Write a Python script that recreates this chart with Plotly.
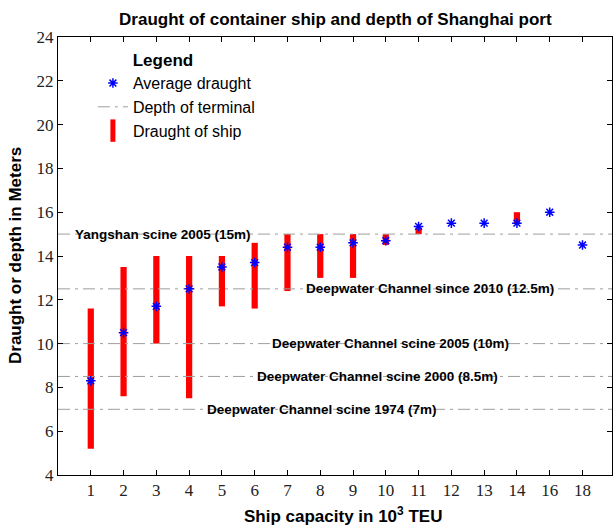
import plotly.graph_objects as go

# ---- data ----
capacity_labels = ["1", "2", "3", "4", "5", "6", "7", "8", "9", "10", "11", "12", "13", "14", "16", "18"]
draught_min = [5.2, 7.6, 10.0, 7.5, 11.7, 11.6, 12.4, 13.0, 13.0, 14.5, 15.0, 15.5, 15.5, 15.5, 16.0, 14.5]
draught_max = [11.6, 13.5, 14.0, 14.0, 14.0, 14.6, 15.0, 15.0, 15.0, 15.0, 15.3, 15.5, 15.5, 16.0, 16.0, 14.5]
draught_avg = [8.3, 10.5, 11.7, 12.5, 13.5, 13.7, 14.4, 14.4, 14.6, 14.7, 15.35, 15.5, 15.5, 15.5, 16.0, 14.5]
depth_values = [15, 12.5, 10, 8.5, 7]
depth_labels = [
    "Yangshan scine 2005 (15m)",
    "Deepwater Channel since 2010 (12.5m)",
    "Deepwater Channel scine 2005 (10m)",
    "Deepwater Channel scine 2000 (8.5m)",
    "Deepwater Channel scine 1974 (7m)",
]
label_xpos = [3.2, 11.36, 10.15, 9.76, 8.05]

xpos = list(range(1, len(capacity_labels) + 1))
x_range = [0, 16.9]

fig = go.Figure()

# depth lines
for i, (d, lab) in enumerate(zip(depth_values, depth_labels)):
    fig.add_trace(go.Scatter(
        x=x_range, y=[d, d], mode="lines",
        line=dict(color="#9e9e9e", width=1, dash="12px,5px,3px,5px"),
        name="Depth of terminal", legendgroup="depth",
        showlegend=(i == 0), legendrank=2, hoverinfo="skip",
    ))

# draught range bars
fig.add_trace(go.Bar(
    x=xpos, base=draught_min,
    y=[mx - mn for mn, mx in zip(draught_min, draught_max)],
    width=0.19, marker=dict(color="#ff0000", line=dict(width=0)),
    showlegend=False, name="Draught of ship",
))
# legend entry for the bars
fig.add_trace(go.Scatter(
    x=[None], y=[None], mode="markers",
    marker=dict(symbol="line-ns-open", size=22, color="#ff0000",
                line=dict(color="#ff0000", width=6)),
    name="Draught of ship", legendrank=3,
))

# averages
fig.add_trace(go.Scatter(
    x=xpos, y=draught_avg, mode="markers",
    marker=dict(symbol="asterisk-open", size=8, color="#0000ff",
                line=dict(color="#0000ff", width=1.5)),
    name="Average draught", legendrank=1,
))

for d, lab, xp in zip(depth_values, depth_labels, label_xpos):
    fig.add_annotation(x=xp, y=d, text="<b>" + lab + "</b>", showarrow=False,
                       font=dict(family="Liberation Sans, Arial", size=13.5, color="black"),
                       xanchor="center", yanchor="middle")

title_font = dict(family="Liberation Sans, Arial", size=17, color="black")
# axis titles
fig.add_annotation(xref="paper", yref="paper", x=0.514, y=-0.091, showarrow=False,
                   text="<b>Ship capacity in 10<sup>3</sup> TEU</b>", font=title_font,
                   xanchor="center", yanchor="middle")
fig.add_annotation(xref="paper", yref="paper", x=-0.0776, y=0.5, showarrow=False,
                   text="<b>Draught or depth in Meters</b>", font=title_font, textangle=-90,
                   xanchor="center", yanchor="middle")

axis_common = dict(showline=True, linecolor="black", linewidth=1, mirror="ticks",
                   ticks="inside", ticklen=5, tickcolor="black", showgrid=False, zeroline=False,
                   automargin=False,
                   tickfont=dict(family="Liberation Serif, Times New Roman, serif", size=17, color="#222"))

fig.update_layout(
    width=613, height=528,
    margin=dict(l=58, r=1, t=37, b=53),
    paper_bgcolor="white", plot_bgcolor="white",
    title=dict(text="<b>Draught of container ship and depth of Shanghai port</b>",
               x=0.547, xanchor="center", y=0.963, yanchor="middle", font=title_font),
    xaxis=dict(range=x_range, tickvals=xpos, ticktext=capacity_labels, **axis_common),
    yaxis=dict(range=[4, 24], dtick=2, **axis_common),
    legend=dict(x=0.063, y=0.984, xanchor="left", yanchor="top",
                bgcolor="rgba(0,0,0,0)", borderwidth=0,
                title=dict(text="\u00a0" * 8 + "<b>Legend</b>", font=title_font),
                font=dict(family="Liberation Sans, Arial", size=16, color="black"),
                tracegroupgap=0),
    barmode="overlay",
    showlegend=True,
)

fig.write_html("out.html", config={"displayModeBar": False},
               post_script="document.body.style.margin='0';")
